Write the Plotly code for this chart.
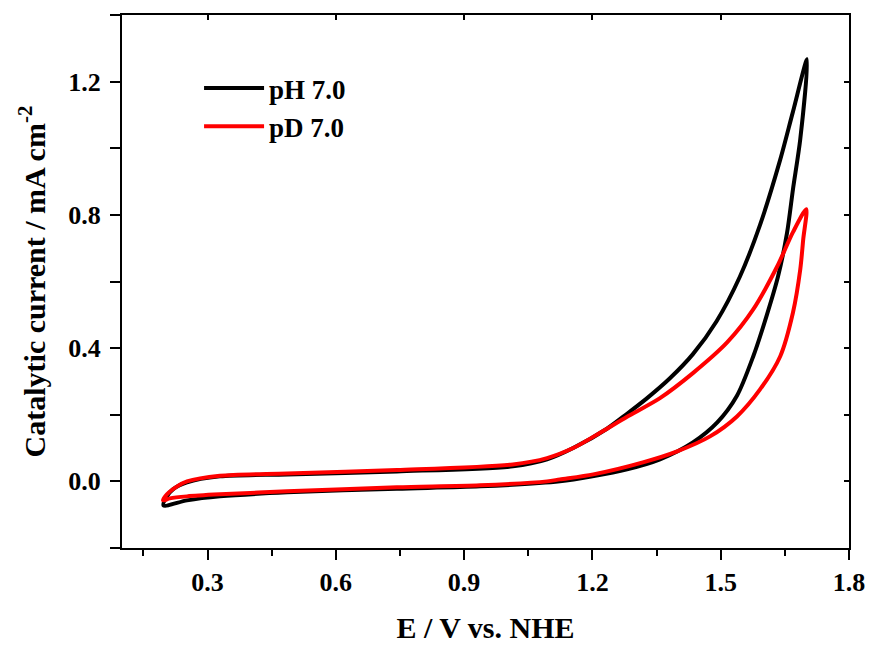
import plotly.graph_objects as go

# Cyclic voltammograms (forward scan then reverse scan)
E_pH = [0.197, 0.205, 0.219, 0.252, 0.329, 0.486, 0.743, 1.014, 1.094, 1.155, 1.234, 1.281,
        1.328, 1.380, 1.435, 1.490, 1.545, 1.592, 1.639, 1.669, 1.702,
        1.686, 1.669, 1.655, 1.634, 1.608, 1.576, 1.538, 1.492, 1.435, 1.358, 1.281,
        1.200, 1.124, 0.937, 0.743, 0.486, 0.329, 0.252, 0.197]
I_pH = [-0.072, -0.045, -0.024, -0.003, 0.015, 0.021, 0.030, 0.045, 0.066, 0.100, 0.158, 0.203,
        0.250, 0.308, 0.382, 0.480, 0.615, 0.770, 0.965, 1.110, 1.267,
        1.027, 0.877, 0.745, 0.615, 0.500, 0.375, 0.257, 0.177, 0.117, 0.066, 0.036,
        0.015, 0.000, -0.015, -0.022, -0.033, -0.045, -0.057, -0.072]

E_pD = [0.196, 0.205, 0.229, 0.252, 0.329, 0.486, 0.743, 1.014, 1.094, 1.155, 1.218, 1.281,
        1.358, 1.435, 1.515, 1.576, 1.632, 1.669, 1.700,
        1.693, 1.686, 1.669, 1.639, 1.592, 1.538, 1.475, 1.398, 1.318, 1.202, 1.124,
        1.094, 0.937, 0.743, 0.486, 0.329, 0.252, 0.212, 0.196]
I_pD = [-0.057, -0.039, -0.015, 0.000, 0.017, 0.024, 0.034, 0.051, 0.070, 0.100, 0.146, 0.194,
        0.250, 0.325, 0.417, 0.516, 0.645, 0.748, 0.817,
        0.727, 0.636, 0.507, 0.375, 0.276, 0.195, 0.135, 0.090, 0.057, 0.021, 0.006,
        0.000, -0.012, -0.018, -0.030, -0.039, -0.045, -0.051, -0.057]

series_names = ["pH 7.0", "pD 7.0"]
x_title = "E / V vs. NHE"
y_title = "Catalytic current / mA cm<sup>-2</sup>"

FONT = "Liberation Serif"

fig = go.Figure()
fig.add_trace(go.Scatter(x=E_pH, y=I_pH, mode="lines", name=series_names[0],
                         line=dict(color="#000000", width=4, shape="spline", smoothing=0.8)))
fig.add_trace(go.Scatter(x=E_pD, y=I_pD, mode="lines", name=series_names[1],
                         line=dict(color="#ff0000", width=4, shape="spline", smoothing=0.8)))
# invisible trace to activate mirrored (inside-tick) axes
fig.add_trace(go.Scatter(x=E_pH, y=I_pH, mode="lines", xaxis="x2", yaxis="y2",
                         line=dict(color="rgba(0,0,0,0)"), showlegend=False, hoverinfo="skip"))

tickfont = dict(family=FONT, size=26, color="black", weight="bold")
titlefont = dict(family=FONT, size=30, color="black", weight="bold")

fig.update_layout(
    width=872, height=645,
    margin=dict(l=122, r=23, t=15, b=97),
    paper_bgcolor="white", plot_bgcolor="white",
    font=dict(family=FONT, color="black"),
    showlegend=True,
    legend=dict(x=0.106, y=0.908, xanchor="left", yanchor="top",
                bgcolor="rgba(0,0,0,0)", font=dict(family=FONT, size=27, color="black", weight="bold"),
                tracegroupgap=0, itemwidth=60),
    xaxis=dict(range=[0.1, 1.8], tick0=0, dtick=0.3, tickformat=".1f", automargin=False,
               showgrid=False, zeroline=False, showline=True, linecolor="black", linewidth=2,
               mirror=True, ticks="outside", ticklen=10, tickwidth=2, tickcolor="black",
               ticklabelstandoff=0,
               minor=dict(dtick=0.15, tick0=0, ticks="outside", ticklen=6, tickwidth=2, tickcolor="black"),
               tickfont=tickfont, title=dict(text=x_title, font=titlefont, standoff=21)),
    yaxis=dict(range=[-0.2, 1.4], tick0=0, dtick=0.4, tickformat=".1f", automargin=False,
               showgrid=False, zeroline=False, showline=True, linecolor="black", linewidth=2,
               mirror=True, ticks="outside", ticklen=10, tickwidth=2, tickcolor="black",
               ticklabelstandoff=4,
               minor=dict(dtick=0.2, tick0=0, ticks="outside", ticklen=10, tickwidth=2, tickcolor="black"),
               tickfont=tickfont, title=dict(text=y_title, font=titlefont, standoff=14)),
    xaxis2=dict(range=[0.1, 1.8], overlaying="x", side="top", anchor="y", tick0=0, dtick=0.3,
                automargin=False,
                showgrid=False, zeroline=False, showline=False, showticklabels=False,
                ticks="inside", ticklen=5, tickwidth=2, tickcolor="black"),
    yaxis2=dict(range=[-0.2, 1.4], overlaying="y", side="right", anchor="x", tick0=0, dtick=0.2,
                automargin=False,
                showgrid=False, zeroline=False, showline=False, showticklabels=False,
                ticks="inside", ticklen=5, tickwidth=2, tickcolor="black"),
)

fig.write_html("out.html")
